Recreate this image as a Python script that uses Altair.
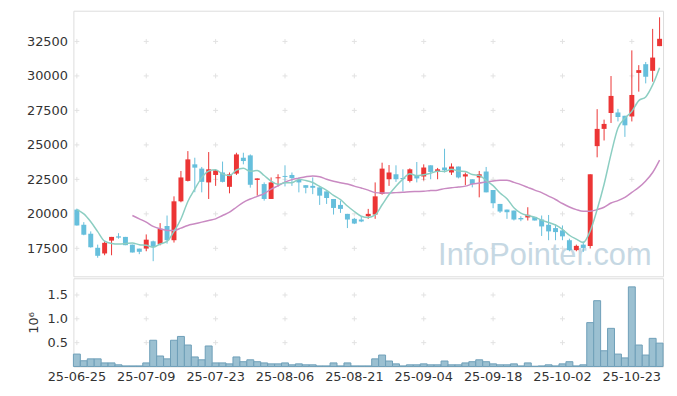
import altair as alt
import pandas as pd

dates = [
    "25-06-25", "25-06-26", "25-06-27", "25-06-30", "25-07-01", "25-07-02", "25-07-03", "25-07-04",
    "25-07-07", "25-07-08", "25-07-09", "25-07-10", "25-07-11", "25-07-14", "25-07-15", "25-07-16",
    "25-07-17", "25-07-18", "25-07-21", "25-07-22", "25-07-23", "25-07-24", "25-07-25", "25-07-28",
    "25-07-29", "25-07-30", "25-07-31", "25-08-01", "25-08-04", "25-08-05", "25-08-06", "25-08-07",
    "25-08-08", "25-08-11", "25-08-12", "25-08-13", "25-08-14", "25-08-18", "25-08-19", "25-08-20",
    "25-08-21", "25-08-22", "25-08-25", "25-08-26", "25-08-27", "25-08-28", "25-08-29", "25-09-01",
    "25-09-02", "25-09-03", "25-09-04", "25-09-05", "25-09-08", "25-09-09", "25-09-10", "25-09-11",
    "25-09-12", "25-09-15", "25-09-16", "25-09-17", "25-09-18", "25-09-19", "25-09-22", "25-09-23",
    "25-09-24", "25-09-25", "25-09-26", "25-09-29", "25-09-30", "25-10-01", "25-10-02", "25-10-10",
    "25-10-13", "25-10-14", "25-10-15", "25-10-16", "25-10-17", "25-10-20", "25-10-21", "25-10-22",
    "25-10-23", "25-10-24", "25-10-27", "25-10-28", "25-10-29",
]

open_ = [
    20310, 19210, 18560, 17540, 17130, 18060, 18370, 18330, 17770, 17480,
    17490, 18010, 17820, 19120, 18090, 20910, 22390, 23590, 23280, 22280,
    22820, 23000, 21960, 22920, 24070, 24240, 22460, 22160, 21080, 22580,
    22750, 22820, 22460, 22080, 22030, 21920, 21630, 21080, 20650, 20000,
    19640, 19590, 19830, 19950, 21440, 22510, 22870, 22600, 22390, 22820,
    22710, 23520, 23040, 23360, 23000, 23430, 22710, 22510, 22640, 23070,
    21730, 20720, 20310, 20240, 19700, 19740, 19780, 19590, 19210, 18970,
    18800, 18090, 17370, 17770, 17670, 24910, 26160, 27310, 27350, 27110,
    27060, 30220, 30850, 30370, 32160,
]
high = [
    20380, 19400, 18730, 17770, 18040, 18330, 18600, 18330, 17770, 17480,
    18510, 18060, 19330, 19880, 21270, 23110, 24550, 24070, 23400, 24480,
    23230, 23790, 23000, 24430, 24430, 24310, 22570, 22280, 22640, 22870,
    23520, 23000, 22640, 22080, 22640, 21920, 21630, 21080, 20960, 20000,
    19710, 19830, 20360, 22280, 23710, 23540, 23520, 23230, 23300, 23760,
    23590, 23520, 23330, 24720, 23660, 23430, 23000, 22510, 23110, 23400,
    21730, 20720, 20310, 20240, 19830, 20480, 19780, 19880, 19920, 19230,
    19160, 18200, 17770, 18010, 22870, 27590, 26830, 29990, 27610, 27110,
    31850, 30780, 31010, 33410, 34250,
]
low = [
    19150, 18450, 17550, 16820, 17000, 17000, 18200, 17730, 17200, 17080,
    17290, 16570, 17720, 17840, 17920, 20840, 22350, 21570, 21560, 21080,
    22030, 22280, 21490, 22820, 23590, 21900, 21320, 20960, 21080, 21990,
    21990, 22030, 21560, 21490, 21430, 20650, 20720, 19950, 20070, 18970,
    19260, 19400, 19640, 19640, 21390, 22030, 22320, 21630, 22280, 22280,
    22420, 22510, 22510, 23000, 22820, 22570, 22080, 21920, 21200, 21560,
    20410, 20070, 19640, 19520, 19470, 19520, 19520, 18400, 18090, 18090,
    18090, 17290, 17290, 17240, 17490, 24100, 25320, 26590, 26700, 25580,
    26700, 28860, 29460, 29580, 32160,
]
close = [
    19160, 18490, 17580, 16960, 17900, 18330, 18280, 17730, 17200, 17250,
    18130, 17610, 18920, 18090, 20910, 22640, 23950, 23350, 22320, 23230,
    23160, 22320, 22870, 24310, 23830, 22110, 22570, 21080, 22280, 22650,
    22680, 22590, 22280, 21890, 21890, 21320, 21150, 20430, 20360, 19590,
    19300, 19450, 20000, 21270, 23280, 23000, 22510, 22520, 23230, 22570,
    23360, 23040, 23230, 23160, 23430, 22640, 22870, 22160, 22870, 21560,
    20770, 20170, 20120, 19590, 19600, 19930, 19520, 19090, 18730, 18680,
    18370, 17370, 17680, 17530, 22870, 26160, 26520, 28550, 27020, 26420,
    28620, 30420, 29940, 31330, 32690,
]
ma5 = [
    20310, 20000, 19430, 18710, 18020, 17850, 17810, 17840, 17890, 17760,
    17720, 17580, 17820, 18000, 18730, 19630, 20900, 21790, 22630, 23100,
    23200, 22880, 22780, 23180, 23300, 23090, 23140, 22780, 22370, 22140,
    22250, 22260, 22500, 22420, 22270, 21990, 21710, 21340, 21030, 20570,
    20170, 19830, 19740, 19920, 20660, 21400, 22010, 22520, 22910, 22770,
    22840, 22940, 23090, 23070, 23240, 23100, 23070, 22850, 22790, 22420,
    22050, 21510, 21100, 20440, 20050, 19880, 19750, 19550, 19370, 19190,
    18880, 18450, 18170, 17930, 18760, 20320, 22150, 24330, 26220, 26930,
    27430, 28210, 28480, 29350, 30600,
]
ma20 = [
    None, None, None, None, None, None, None, None,
    19880, 19640, 19400, 19090, 18920, 18800, 18800, 18970, 19160, 19280,
    19400, 19520, 19640, 19880, 20120, 20480, 20840, 21080, 21270, 21470,
    21800, 22030, 22300, 22480, 22590, 22690, 22750, 22690, 22510, 22370,
    22260, 22160, 22010, 21870, 21720, 21540, 21510, 21510, 21540, 21560,
    21600, 21620, 21640, 21690, 21720, 21830, 21900, 21940, 22010, 22160,
    22230, 22320, 22390, 22430, 22440, 22280, 22120, 21920, 21720, 21540,
    21290, 21040, 20750, 20500, 20310, 20190, 20190, 20310, 20480, 20790,
    20960, 21200, 21560, 21920, 22390, 23000, 23900,
]
volume_m = [
    0.26, 0.12, 0.16, 0.16, 0.075, 0.075, 0.035, 0.012, 0.012, 0.012,
    0.075, 0.55, 0.22, 0.16, 0.55, 0.63, 0.45, 0.20, 0.14, 0.43,
    0.075, 0.075, 0.055, 0.20, 0.10, 0.14, 0.10, 0.075, 0.055, 0.055,
    0.075, 0.035, 0.055, 0.035, 0.035, 0.012, 0.012, 0.075, 0.012, 0.075,
    0.012, 0.012, 0.012, 0.16, 0.24, 0.115, 0.055, 0.012, 0.035, 0.035,
    0.055, 0.035, 0.035, 0.115, 0.035, 0.035, 0.075, 0.10, 0.14, 0.10,
    0.055, 0.035, 0.035, 0.055, 0.012, 0.075, 0.005, 0.012, 0.035, 0.012,
    0.055, 0.10, 0.012, 0.035, 0.92, 1.38, 0.33, 0.80, 0.26, 0.18,
    1.67, 0.45, 0.24, 0.59, 0.49,
]

label_dates = ["25-06-25", "25-07-09", "25-07-23", "25-08-06", "25-08-21",
               "25-09-04", "25-09-18", "25-10-02", "25-10-23"]
price_ticks = [17500, 20000, 22500, 25000, 27500, 30000, 32500]
volume_ticks = [0.5, 1.0, 1.5]
watermark = "InfoPointer.com"

RED = "#ec3535"
BLUE = "#66bfdc"
TEAL = "#8ccec2"
PURPLE = "#c98ac2"
VFILL = "#9bc0d1"
VSTROKE = "#6e9fb8"
CROSS = "#e2e2e2"
FONT = "DejaVu Sans"

df = pd.DataFrame({
    "date": dates, "open": open_, "high": high, "low": low, "close": close,
    "ma5": ma5, "ma20": ma20, "vol": volume_m,
})
cross_price = pd.DataFrame([{"date": d, "v": v} for d in label_dates for v in price_ticks])
cross_vol = pd.DataFrame([{"date": d, "v": v} for d in label_dates for v in volume_ticks])
wm_df = pd.DataFrame({"t": [watermark]})

W = 595
H1 = 268
H2 = 89

xscale = alt.Scale(domain=dates, paddingInner=0, paddingOuter=0)
x_hidden = alt.X("date:O", scale=xscale, axis=None)
pscale = alt.Scale(domain=[15474, 34727], nice=False, zero=False)
paxis = alt.Axis(values=price_ticks, format="d", title=None, ticks=False, domain=False, grid=False,
                 labelFontSize=13, labelColor="#333333", labelFont=FONT, labelPadding=6,
                 minExtent=60, maxExtent=60)

up = "datum.close >= datum.open"
color_cond = alt.condition(up, alt.value(RED), alt.value(BLUE))

crosses1 = alt.Chart(cross_price).mark_point(
    shape="M-1,0L1,0M0,-1L0,1", size=25, filled=False, strokeWidth=1, color=CROSS, opacity=1
).encode(x=x_hidden, y=alt.Y("v:Q", scale=pscale, axis=paxis))

wm = alt.Chart(wm_df).mark_text(
    font="Liberation Sans", fontSize=31, color="#c6d8e3", align="left", baseline="alphabetic"
).encode(x=alt.value(368), y=alt.value(257), text="t:N")

wick = alt.Chart(df).mark_rule(strokeWidth=1).encode(
    x=x_hidden, y=alt.Y("low:Q", scale=pscale, axis=paxis), y2="high:Q", color=color_cond
)
body = alt.Chart(df).mark_bar(size=5).encode(
    x=x_hidden, y=alt.Y("open:Q", scale=pscale), y2="close:Q", color=color_cond
)
line5 = alt.Chart(df).mark_line(color=TEAL, strokeWidth=1.5, interpolate="monotone").encode(
    x=x_hidden, y=alt.Y("ma5:Q", scale=pscale)
)
line20 = alt.Chart(df).mark_line(color=PURPLE, strokeWidth=1.5, interpolate="monotone").encode(
    x=x_hidden, y=alt.Y("ma20:Q", scale=pscale)
)

top = alt.layer(crosses1, wm, wick, body, line20, line5).properties(width=W, height=H1)

vscale = alt.Scale(domain=[0, 1.85], nice=False)
vaxis = alt.Axis(values=volume_ticks, format=".1f", title="10⁶", ticks=False, domain=False,
                 grid=False, labelFontSize=13, labelColor="#333333", labelFont=FONT,
                 labelPadding=6, minExtent=60, maxExtent=60,
                 titleFont=FONT, titleFontSize=13, titleFontWeight="normal", titleColor="#333333",
                 titleX=-40, titleY=H2 / 2, titleAlign="center", titleBaseline="middle", titleAngle=270)
x_vol = alt.X("date:O", scale=xscale,
              axis=alt.Axis(values=label_dates, labelAngle=0, ticks=False, domain=False, grid=False,
                            title=None, labelFontSize=13, labelColor="#333333", labelFont=FONT,
                            labelPadding=4))

crosses2 = alt.Chart(cross_vol).mark_point(
    shape="M-1,0L1,0M0,-1L0,1", size=25, filled=False, strokeWidth=1, color=CROSS, opacity=1
).encode(x=x_vol, y=alt.Y("v:Q", scale=vscale, axis=vaxis))

bars = alt.Chart(df).mark_bar(color=VFILL, stroke=VSTROKE, strokeWidth=1).encode(
    x=x_vol, y=alt.Y("vol:Q", scale=vscale, axis=vaxis)
)

bottom = alt.layer(crosses2, bars).properties(width=W, height=H2)

chart = alt.vconcat(top, bottom, spacing=0).properties(
    padding={"left": 5, "top": 0, "right": 5, "bottom": 5}
).configure_view(stroke="#e3e3e3", strokeWidth=1).configure(background="white")

chart.save("out.html", embed_options={"renderer": "svg", "actions": False})
